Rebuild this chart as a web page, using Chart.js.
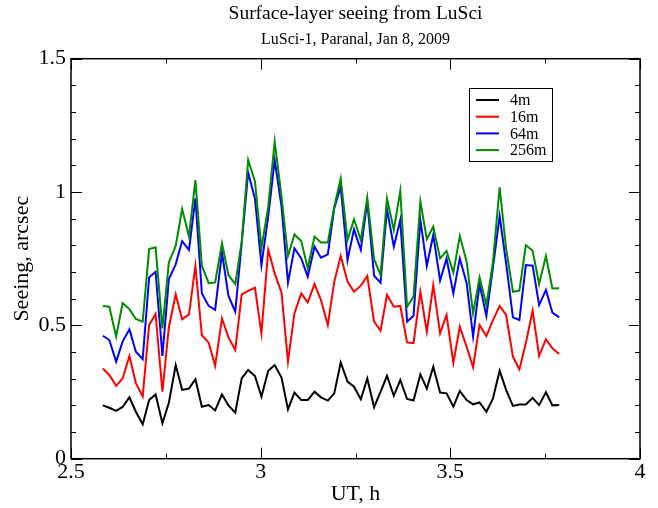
<!DOCTYPE html>
<html>
<head>
<meta charset="utf-8">
<script src="https://cdn.jsdelivr.net/npm/chart.js@4.4.1/dist/chart.umd.min.js"></script>
<style>
  html, body { margin: 0; padding: 0; background: #fff; }
  canvas { display: block; }
</style>
</head>
<body>
<canvas id="seeing" width="658" height="508"></canvas>
<script>
// UT, hours (one sample about every minute)
const ut = [
  2.584, 2.601, 2.619, 2.636, 2.654, 2.671, 2.689, 2.706, 2.723, 2.741,
  2.758, 2.776, 2.793, 2.811, 2.828, 2.845, 2.863, 2.880, 2.898, 2.915,
  2.933, 2.950, 2.967, 2.985, 3.002, 3.020, 3.037, 3.055, 3.072, 3.089,
  3.107, 3.124, 3.142, 3.159, 3.177, 3.194, 3.211, 3.229, 3.246, 3.264,
  3.281, 3.299, 3.316, 3.333, 3.351, 3.368, 3.386, 3.403, 3.421, 3.438,
  3.455, 3.473, 3.490, 3.508, 3.525, 3.543, 3.560, 3.577, 3.595, 3.612,
  3.630, 3.647, 3.665, 3.682, 3.699, 3.717, 3.734, 3.752, 3.769, 3.787
];

// seeing, arcsec, for each layer thickness
const s4 = [
  0.200, 0.191, 0.179, 0.194, 0.230, 0.176, 0.129, 0.220, 0.241, 0.133,
  0.210, 0.351, 0.258, 0.263, 0.298, 0.195, 0.201, 0.181, 0.241, 0.200,
  0.173, 0.301, 0.333, 0.310, 0.233, 0.330, 0.351, 0.304, 0.185, 0.248,
  0.220, 0.220, 0.251, 0.230, 0.218, 0.245, 0.361, 0.289, 0.270, 0.223,
  0.301, 0.193, 0.251, 0.311, 0.236, 0.295, 0.224, 0.218, 0.316, 0.263,
  0.345, 0.248, 0.245, 0.195, 0.254, 0.220, 0.204, 0.211, 0.176, 0.224,
  0.330, 0.258, 0.198, 0.203, 0.203, 0.228, 0.201, 0.249, 0.200, 0.201
];
const s16 = [
  0.338, 0.314, 0.273, 0.301, 0.385, 0.283, 0.233, 0.501, 0.543, 0.251,
  0.493, 0.616, 0.523, 0.541, 0.723, 0.463, 0.435, 0.348, 0.526, 0.455,
  0.408, 0.616, 0.629, 0.641, 0.470, 0.783, 0.695, 0.623, 0.364, 0.545,
  0.620, 0.586, 0.655, 0.595, 0.501, 0.664, 0.760, 0.664, 0.626, 0.649,
  0.685, 0.514, 0.480, 0.614, 0.570, 0.573, 0.436, 0.433, 0.626, 0.476,
  0.651, 0.470, 0.539, 0.360, 0.495, 0.420, 0.343, 0.501, 0.460, 0.518,
  0.573, 0.539, 0.383, 0.335, 0.433, 0.555, 0.385, 0.448, 0.414, 0.393
];
const s64 = [
  0.461, 0.445, 0.364, 0.439, 0.485, 0.401, 0.373, 0.680, 0.701, 0.385,
  0.674, 0.729, 0.816, 0.783, 0.976, 0.620, 0.573, 0.558, 0.773, 0.611,
  0.551, 0.808, 1.073, 0.975, 0.726, 0.910, 1.120, 0.945, 0.660, 0.789,
  0.751, 0.683, 0.795, 0.754, 0.766, 0.939, 1.020, 0.745, 0.860, 0.783,
  0.964, 0.686, 0.660, 0.935, 0.795, 0.895, 0.514, 0.536, 0.895, 0.723,
  0.839, 0.668, 0.751, 0.620, 0.751, 0.658, 0.458, 0.655, 0.535, 0.714,
  0.910, 0.733, 0.530, 0.520, 0.726, 0.724, 0.576, 0.633, 0.548, 0.530
];
const s256 = [
  0.573, 0.570, 0.458, 0.583, 0.561, 0.524, 0.514, 0.786, 0.793, 0.489,
  0.736, 0.798, 0.936, 0.833, 1.045, 0.723, 0.658, 0.661, 0.808, 0.689,
  0.655, 0.814, 1.120, 1.040, 0.790, 0.945, 1.189, 0.983, 0.760, 0.841,
  0.816, 0.714, 0.833, 0.811, 0.811, 0.945, 1.051, 0.820, 0.898, 0.820,
  0.979, 0.748, 0.689, 0.976, 0.858, 1.004, 0.570, 0.608, 0.964, 0.823,
  0.870, 0.751, 0.779, 0.698, 0.835, 0.739, 0.545, 0.680, 0.576, 0.733,
  1.018, 0.789, 0.626, 0.630, 0.801, 0.780, 0.655, 0.760, 0.638, 0.639
];

const labels = ['4m', '16m', '64m', '256m'];
const colors = ['#000000', '#ff0000', '#0000ff', '#008b00'];

const xTicks = [2.5, 3, 3.5, 4];
const xMinor = [2.75, 3.25, 3.75];
const yTicks = [0, 0.5, 1, 1.5];
const yMinor = [0.1, 0.2, 0.3, 0.4, 0.6, 0.7, 0.8, 0.9, 1.1, 1.2, 1.3, 1.4];

const serif = '"Liberation Serif", "Times New Roman", serif';

function points(ys) {
  return ys.map((y, i) => ({ x: ut[i], y: y }));
}

// frame, inward ticks on all four sides, and the boxed legend
const framePlugin = {
  id: 'frame',
  afterDraw(chart) {
    const ctx = chart.ctx;
    const a = chart.chartArea;
    const xs = chart.scales.x;
    const ys = chart.scales.y;
    ctx.save();
    ctx.strokeStyle = '#000';
    ctx.lineWidth = 1.5;
    ctx.strokeRect(a.left, a.top, a.right - a.left, a.bottom - a.top);

    ctx.lineWidth = 1;
    ctx.beginPath();
    const xt = (v, len) => {
      const px = Math.round(xs.getPixelForValue(v)) + 0.5;
      ctx.moveTo(px, a.bottom); ctx.lineTo(px, a.bottom - len);
      ctx.moveTo(px, a.top); ctx.lineTo(px, a.top + len);
    };
    const yt = (v, len) => {
      const py = Math.round(ys.getPixelForValue(v)) + 0.5;
      ctx.moveTo(a.left, py); ctx.lineTo(a.left + len, py);
      ctx.moveTo(a.right, py); ctx.lineTo(a.right - len, py);
    };
    xTicks.forEach(v => xt(v, 11));
    xMinor.forEach(v => xt(v, 5));
    yTicks.forEach(v => yt(v, 11));
    yMinor.forEach(v => yt(v, 5));
    ctx.stroke();

    // legend
    const bx = 469.5, by = 88.5, bw = 83, bh = 73;
    ctx.fillStyle = '#fff';
    ctx.fillRect(bx, by, bw, bh);
    ctx.lineWidth = 1;
    ctx.strokeRect(bx, by, bw, bh);
    ctx.font = '16px ' + serif;
    ctx.textBaseline = 'middle';
    ctx.textAlign = 'left';
    chart.data.datasets.forEach((ds, i) => {
      const ry = 100 + i * 16.7;
      ctx.strokeStyle = ds.borderColor;
      ctx.lineWidth = 2;
      ctx.beginPath();
      ctx.moveTo(476, ry); ctx.lineTo(499, ry);
      ctx.stroke();
      ctx.fillStyle = '#000';
      ctx.fillText(ds.label, 510, ry + 1);
    });
    ctx.restore();
  }
};

new Chart(document.getElementById('seeing'), {
  type: 'line',
  data: {
    datasets: [
      { label: labels[0], data: points(s4), borderColor: colors[0], order: 3 },
      { label: labels[1], data: points(s16), borderColor: colors[1], order: 2 },
      { label: labels[2], data: points(s64), borderColor: colors[2], order: 1 },
      { label: labels[3], data: points(s256), borderColor: colors[3], order: 0 }
    ]
  },
  options: {
    responsive: false,
    animation: false,
    devicePixelRatio: 1,
    layout: { padding: { top: 0, right: 18, bottom: 0, left: 0 } },
    elements: {
      point: { radius: 0 },
      line: { borderWidth: 2, tension: 0, fill: false }
    },
    plugins: {
      legend: { display: false },
      tooltip: { enabled: false },
      title: {
        display: true,
        fullSize: false,
        text: 'Surface-layer seeing from LuSci',
        color: '#000',
        font: { family: serif, size: 19.5, weight: 'normal', lineHeight: 1.2 },
        padding: { top: 2, bottom: 0 }
      },
      subtitle: {
        display: true,
        fullSize: false,
        text: 'LuSci-1, Paranal, Jan 8, 2009',
        color: '#000',
        font: { family: serif, size: 16, weight: 'normal', lineHeight: 1.2 },
        padding: { top: 5, bottom: 9.1 }
      }
    },
    scales: {
      x: {
        type: 'linear',
        min: 2.5,
        max: 4,
        afterBuildTicks: s => { s.ticks = xTicks.map(v => ({ value: v })); },
        afterFit: s => { s.height = 49.3; },
        grid: { display: false, drawTicks: false },
        border: { display: false },
        ticks: {
          color: '#000',
          padding: 0,
          maxRotation: 0,
          font: { family: serif, size: 22 },
          callback: v => String(v)
        },
        title: {
          display: true,
          text: 'UT, h',
          color: '#000',
          font: { family: serif, size: 22, lineHeight: 1.2 },
          padding: { top: 0, bottom: 0.8 }
        }
      },
      y: {
        type: 'linear',
        min: 0,
        max: 1.5,
        afterBuildTicks: s => { s.ticks = yTicks.map(v => ({ value: v })); },
        afterFit: s => { s.width = 71; },
        grid: { display: false, drawTicks: false },
        border: { display: false },
        ticks: {
          color: '#000',
          padding: 5,
          font: { family: serif, size: 22 },
          callback: v => String(v)
        },
        title: {
          display: true,
          text: 'Seeing, arcsec',
          color: '#000',
          font: { family: serif, size: 22, lineHeight: 1.2 },
          padding: { top: 8.8, bottom: 0 }
        }
      }
    }
  },
  plugins: [framePlugin]
});
</script>
</body>
</html>
